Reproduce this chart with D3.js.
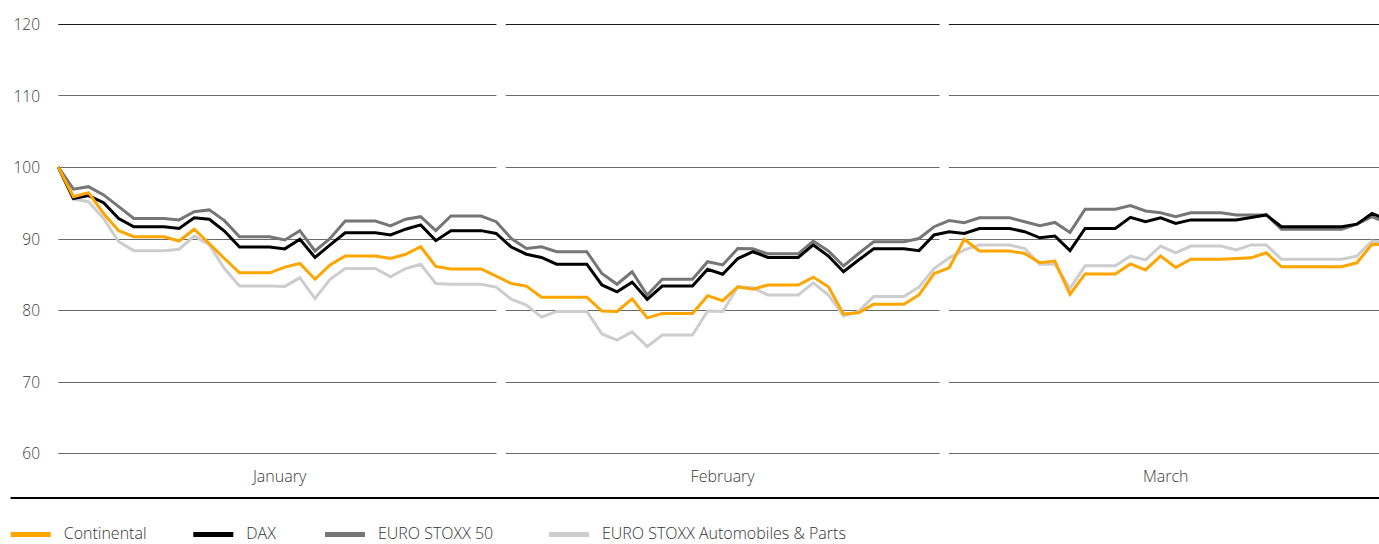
<!DOCTYPE html>
<html><head><meta charset="utf-8">
<script src="https://cdn.jsdelivr.net/npm/d3@7"></script>
<style>
body{margin:0;background:#fff;}
svg{display:block;overflow:hidden;}
text{font-family:"Open Sans",sans-serif;font-weight:300;}
</style>
</head><body>
<svg id="chart" width="1379" height="544"></svg>
<script>
// ---------- data ----------
const months = ["January", "February", "March"];
const yTicks = [60, 70, 80, 90, 100, 110, 120];
const seriesNames = ["Continental", "DAX", "EURO STOXX 50", "EURO STOXX Automobiles & Parts"];

const continental = [100,95.85,96.4,93.5,91.1,90.25,90.25,90.25,89.65,91.3,89.3,87.2,85.2,85.2,85.2,86.0,86.5,84.3,86.3,87.55,87.55,87.55,87.2,87.8,88.85,86.1,85.75,85.75,85.75,84.75,
  83.7,83.35,81.8,81.8,81.8,81.8,79.85,79.8,81.55,78.9,79.5,79.5,79.5,82.0,81.3,83.25,82.9,83.5,83.5,83.5,84.6,83.25,79.45,79.6,80.8,80.8,80.8,82.1,85.1,
  85.9,89.9,88.25,88.25,88.25,87.9,86.6,86.85,82.2,85.05,85.05,85.05,86.45,85.6,87.55,85.95,87.1,87.1,87.1,87.2,87.3,88.0,86.05,86.05,86.05,86.05,86.05,86.6,89.2,89.1];

const dax = [100,95.6,96.0,95.0,92.8,91.65,91.65,91.65,91.4,92.9,92.7,91.05,88.8,88.8,88.8,88.55,89.9,87.35,89.1,90.8,90.8,90.8,90.5,91.3,91.9,89.7,91.1,91.1,91.1,90.7,
  88.8,87.8,87.35,86.4,86.4,86.4,83.5,82.55,83.9,81.5,83.35,83.35,83.35,85.7,85.0,87.2,88.15,87.35,87.35,87.35,89.1,87.55,85.35,87.0,88.55,88.55,88.55,88.3,90.5,
  90.95,90.7,91.4,91.4,91.4,90.95,90.1,90.35,88.3,91.4,91.4,91.4,92.95,92.35,92.9,92.1,92.6,92.6,92.6,92.6,92.95,93.3,91.65,91.65,91.65,91.65,91.65,92.0,93.5,92.6];

const euroStoxx50 = [100,96.9,97.25,96.1,94.45,92.8,92.8,92.8,92.6,93.75,94.0,92.5,90.25,90.25,90.25,89.8,91.1,88.25,90.0,92.45,92.45,92.45,91.75,92.7,93.05,91.1,93.15,93.15,93.15,92.35,
  90.0,88.6,88.85,88.15,88.15,88.15,85.1,83.6,85.35,82.1,84.3,84.3,84.3,86.75,86.3,88.6,88.55,87.85,87.85,87.85,89.65,88.25,86.15,87.9,89.55,89.55,89.55,90.0,91.65,
  92.5,92.2,92.9,92.9,92.9,92.35,91.8,92.25,90.85,94.1,94.1,94.1,94.6,93.85,93.6,93.05,93.6,93.6,93.6,93.3,93.3,93.3,91.3,91.3,91.3,91.3,91.3,92.0,93.05,92.2];

const euroStoxxAuto = [100,95.5,95.15,92.8,89.55,88.3,88.3,88.3,88.5,90.35,89.1,85.8,83.35,83.35,83.35,83.3,84.5,81.6,84.3,85.8,85.8,85.8,84.65,85.8,86.4,83.7,83.6,83.6,83.6,83.2,
  81.5,80.7,79.0,79.8,79.8,79.8,76.65,75.8,76.95,74.9,76.5,76.5,76.5,79.85,79.8,83.25,83.1,82.1,82.1,82.1,83.8,82.1,79.15,79.8,81.9,81.9,81.9,83.2,85.8,
  87.3,88.4,89.1,89.1,89.1,88.6,86.4,86.4,83.0,86.2,86.2,86.2,87.55,87.0,88.95,88.0,88.95,88.95,88.95,88.4,89.1,89.1,87.1,87.1,87.1,87.1,87.1,87.55,89.65,89.4];

// ---------- layout ----------
const svg = d3.select("#chart");
const W = 1379, H = 544;
const n = continental.length;

const x = d3.scaleLinear().domain([0, n - 1]).range([58.3, 58.3 + 15.1 * (n - 1)]);
const y = d3.scaleLinear().domain([60, 120]).range([453, 24]);
const xm = d3.scaleBand().domain(months).range([62.7, 1382.6]).paddingInner(0.021).paddingOuter(0);

const colors = {
  "Continental": "#ffa500",
  "DAX": "#000000",
  "EURO STOXX 50": "#767676",
  "EURO STOXX Automobiles & Parts": "#cdcdcd"
};
const seriesData = {
  "Continental": continental,
  "DAX": dax,
  "EURO STOXX 50": euroStoxx50,
  "EURO STOXX Automobiles & Parts": euroStoxxAuto
};

// gridlines, segmented by month
const grid = svg.append("g");
yTicks.forEach(t => {
  months.forEach((m, mi) => {
    const x0 = mi === 0 ? x(0) : xm(m);
    const x1 = xm(m) + xm.bandwidth();
    grid.append("line")
      .attr("x1", x0).attr("x2", x1)
      .attr("y1", Math.round(y(t)) + 0.5).attr("y2", Math.round(y(t)) + 0.5)
      .attr("stroke", t === 120 ? "#1a1a1a" : "#6a6a6a")
      .attr("stroke-width", 1);
  });
});

// y axis labels
const yAxis = d3.axisLeft(y).tickValues(yTicks).tickSize(0).tickPadding(0);
const yg = svg.append("g").attr("transform", "translate(40,0)").call(yAxis);
yg.select(".domain").remove();
yg.selectAll("text").attr("font-size", 15.5).attr("fill", "#3a3a3a")
  .style("font-family", "'Open Sans',sans-serif").style("font-weight", 300).attr("dy", "0.38em");

// month labels
svg.append("g").selectAll("text").data(months).join("text")
  .attr("x", d => xm(d) + xm.bandwidth() / 2)
  .attr("y", 482)
  .attr("text-anchor", "middle")
  .attr("font-size", 16)
  .attr("fill", "#3a3a3a")
  .text(d => d);

// bottom axis line
svg.append("line").attr("x1", 10.5).attr("x2", W).attr("y1", 498).attr("y2", 498)
  .attr("stroke", "#000").attr("stroke-width", 2);

// lines (draw order: light gray, gray, black, orange)
const line = d3.line().x((d, i) => x(i)).y(d => y(d));
const drawOrder = ["EURO STOXX Automobiles & Parts", "EURO STOXX 50", "DAX", "Continental"];
svg.append("g").selectAll("path").data(drawOrder).join("path")
  .attr("d", d => line(seriesData[d]))
  .attr("fill", "none")
  .attr("stroke", d => colors[d])
  .attr("stroke-width", 3)
  .attr("stroke-linejoin", "miter")
  .attr("stroke-miterlimit", 2);

// legend
const legendX = [10.7, 193.3, 325, 549];
const lg = svg.append("g").selectAll("g").data(seriesNames).join("g")
  .attr("transform", (d, i) => `translate(${legendX[i]},0)`);
lg.append("rect").attr("x", 0).attr("y", 532).attr("width", 40).attr("height", 5)
  .attr("fill", d => colors[d]);
lg.append("text").attr("x", 53).attr("y", 539).attr("font-size", 16).attr("fill", "#333")
  .text(d => d);
</script>
</body></html>
